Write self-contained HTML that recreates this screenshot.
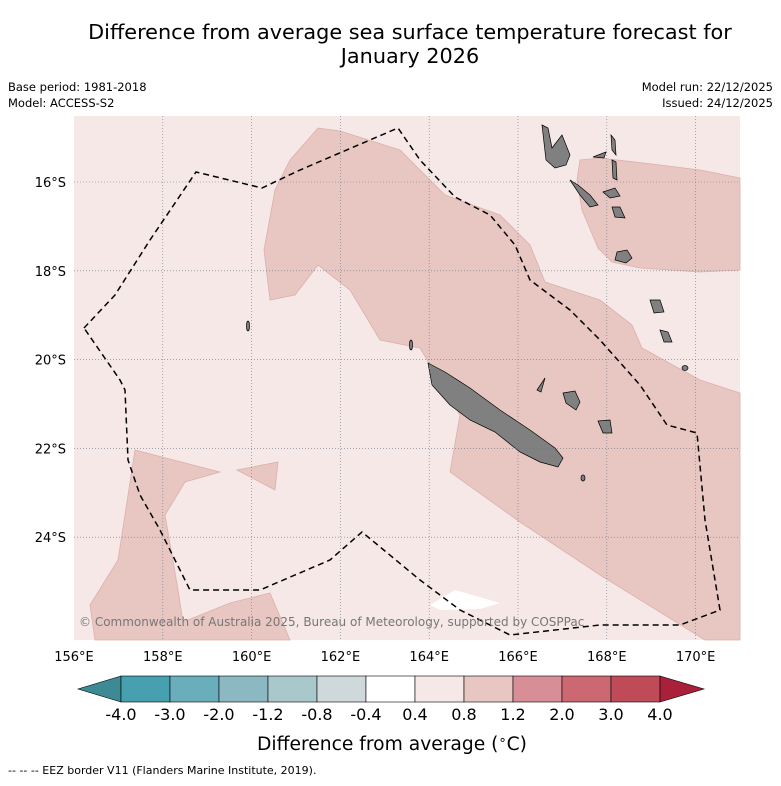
<!DOCTYPE html>
<html><head><meta charset="utf-8"><style>
body{margin:0;background:#fff;font-family:"Liberation Sans","DejaVu Sans",sans-serif;}
svg text{font-family:"DejaVu Sans","Liberation Sans",sans-serif;}
</style></head><body>
<svg width="781" height="781" viewBox="0 0 781 781">
<text x="410" y="39" font-size="20.8" text-anchor="middle">Difference from average sea surface temperature forecast for</text>
<text x="410" y="63" font-size="20.8" text-anchor="middle">January 2026</text>
<text x="8" y="91" font-size="11.5">Base period: 1981-2018</text>
<text x="8" y="107" font-size="11.5">Model: ACCESS-S2</text>
<text x="773" y="91" font-size="11.5" text-anchor="end">Model run: 22/12/2025</text>
<text x="773" y="107" font-size="11.5" text-anchor="end">Issued: 24/12/2025</text>
<g>
<rect x="74" y="116" width="666" height="524" fill="#f5e8e7"/>
<g fill="#e8c6c2" stroke="#dcb0ab" stroke-width="0.8">
<polygon points="318,128 340,131 400,150 445,195 500,215 530,245 545,282 600,300 632,325 642,348 700,380 740,393 740,640 705,640 600,575 520,522 450,472 460,415 420,348 380,340 350,290 318,265 295,295 270,300 264,250 275,190 290,160"/>
<polygon points="580,160 600,158 660,165 700,170 740,178 740,270 700,272 640,268 612,262 598,248 582,210 577,180"/>
<polygon points="90,605 118,560 135,450 220,472 185,482 165,515 178,590 183,622 230,603 270,593 290,640 95,640"/>
<polygon points="237,470 278,462 275,490"/>
</g>
<polygon points="430,605 455,590 500,603 480,609 440,610" fill="#ffffff"/>
<g fill="#808080" stroke="#000" stroke-width="0.7">
<polygon points="428,363 445,372 470,388 500,410 530,430 555,448 563,458 558,467 540,462 520,452 495,432 470,420 450,405 432,385"/>
<polygon points="563,393 575,391 580,402 576,410 566,403"/>
<polygon points="598,421 610,420 612,433 603,433"/>
<polygon points="537,390 545,378 541,392"/>
<polygon points="542,125 548,128 552,148 562,135 570,155 566,165 555,168 546,160"/>
<polygon points="570,180 578,185 590,195 598,205 590,207 580,195"/>
<polygon points="603,192 615,188 620,196 610,198"/>
<polygon points="612,207 620,207 625,218 615,217"/>
<polygon points="617,252 627,250 632,258 626,263 615,260"/>
<polygon points="611,135 615,140 616,155 612,150"/>
<polygon points="612,160 616,162 617,180 613,178"/>
<polygon points="593,157 606,152 604,158"/>
<polygon points="650,300 660,300 664,312 654,313"/>
<polygon points="660,330 668,332 672,342 664,342"/>
<ellipse cx="685" cy="368" rx="3" ry="2.5"/>
<ellipse cx="583" cy="478" rx="2" ry="3"/>
<ellipse cx="248" cy="326" rx="1.5" ry="5"/>
<ellipse cx="411" cy="345" rx="1.5" ry="5"/>
</g>
<g id="grid" stroke="#6a7a8a" stroke-width="0.6" stroke-dasharray="1,2"></g>
<polyline fill="none" stroke="#000" stroke-width="1.5" stroke-dasharray="6,4" points="84,328 115,295 150,240 196,172 262,188 300,170 398,128 420,160 455,197 490,215 515,245 530,280 570,310 600,340 640,385 667,425 697,433 705,520 720,610 680,625 600,625 510,635 460,610 420,580 362,532 330,560 260,590 190,590 180,570 160,530 140,495 128,460 125,390 120,380 84,328"/>
<text x="79" y="626" font-size="12" fill="#777">© Commonwealth of Australia 2025, Bureau of Meteorology, supported by COSPPac</text>
</g>
<g id="axes"></g>
<g id="cbar"></g>
<text x="392" y="750" font-size="18.7" text-anchor="middle">Difference from average (<tspan font-size="13" dy="-6">∘</tspan><tspan dy="6">C)</tspan></text>
<text x="8" y="774" font-size="11">--  --  -- EEZ border V11 (Flanders Marine Institute, 2019).</text>
</svg>
<script>
const lonTicks=[156,158,160,162,164,166,168,170];
const latTicks=[16,18,20,22,24];
const cbarLevels=["-4.0","-3.0","-2.0","-1.2","-0.8","-0.4","0.4","0.8","1.2","2.0","3.0","4.0"];
const cbarColors=["#46a0b0","#6aaebb","#8cb8c2","#a9c8cc","#cfd8da","#ffffff","#f5e8e7","#e8c6c2","#d88e96","#cc6872","#bf4a58"];
const NS="http://www.w3.org/2000/svg";
function xLon(l){return 74+(l-156)*44.4;}
function yLat(l){return 182+(l-16)*44.4;}
function mk(t,a,p){const e=document.createElementNS(NS,t);for(const k in a)e.setAttribute(k,a[k]);p.appendChild(e);return e;}
const grid=document.getElementById('grid'),axes=document.getElementById('axes'),cb=document.getElementById('cbar');
lonTicks.forEach(l=>{const x=xLon(l);
 if(l>156){const g=mk('line',{x1:x,x2:x,y1:116,y2:640},grid);
 
 }
 const t=mk('text',{x:x,y:661,'font-size':13,'text-anchor':'middle'},axes);t.textContent=l+'°E';
 
 });
latTicks.forEach(l=>{const y=yLat(l);
 const g=mk('line',{x1:74,x2:740,y1:y,y2:y},grid);
 
 
 const t=mk('text',{x:66,y:y+5,'font-size':13,'text-anchor':'end'},axes);t.textContent=l+'°S';
 
 });
const x0=121,w=49,y0=676,h=26;
const lt=mk('polygon',{points:`${x0},${y0} ${x0},${y0+h} 78,${y0+h/2}`,fill:'#3d8a94',stroke:'#000','stroke-width':0.6},cb);


cbarColors.forEach((c,i)=>{const r=mk('rect',{x:x0+i*w,y:y0,width:w,height:h,fill:c,stroke:'#000','stroke-width':0.6},cb);
 
 });
const xe=x0+cbarColors.length*w;
const rt=mk('polygon',{points:`${xe},${y0} ${xe},${y0+h} 704,${y0+h/2}`,fill:'#a8203a',stroke:'#000','stroke-width':0.6},cb);


cbarLevels.forEach((v,i)=>{const t=mk('text',{x:x0+i*w,y:720,'font-size':16,'text-anchor':'middle'},cb);t.textContent=v;
 
 });
</script>
</body></html>
